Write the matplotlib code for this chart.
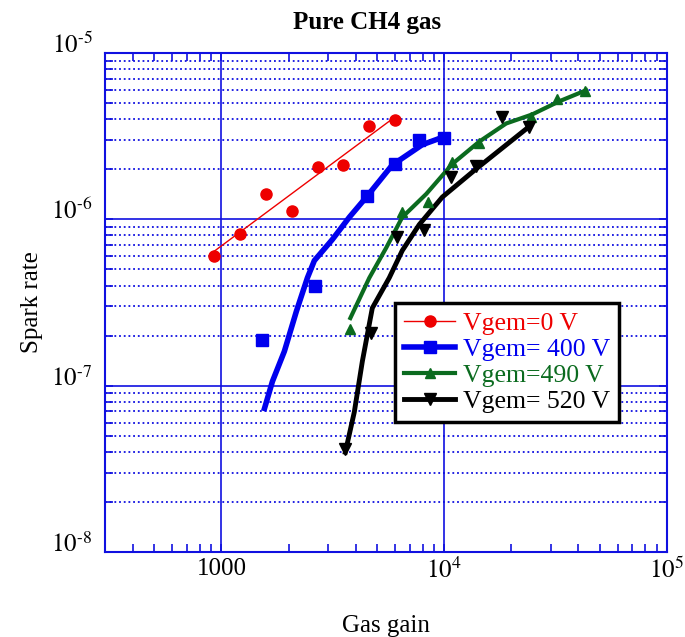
import numpy as np
import matplotlib
matplotlib.use('Agg')
import matplotlib.pyplot as plt
from matplotlib.ticker import FixedLocator, LogLocator, NullFormatter
from matplotlib.lines import Line2D

plt.rcParams['font.family'] = ['Liberation Serif', 'DejaVu Serif']
plt.rcParams['mathtext.fontset'] = 'stix'

# measured points
gain_0 = [921, 1205, 1592, 2081, 2722, 3524, 4610, 6030]
rate_0 = [6.05e-7, 8.2e-7, 1.42e-6, 1.13e-6, 2.07e-6, 2.12e-6, 3.66e-6, 3.93e-6]

gain_400 = [1527, 2640, 4515, 6030, 7725, 10000]
rate_400 = [1.87e-7, 3.98e-7, 1.38e-6, 2.15e-6, 3.01e-6, 3.1e-6]

gain_490 = [3789, 6480, 8480, 10860, 14350, 24550, 32110, 42880]
rate_490 = [2.18e-7, 1.10e-6, 1.27e-6, 2.21e-6, 2.89e-6, 4.15e-6, 5.26e-6, 5.88e-6]

gain_520 = [3597, 4705, 6154, 8130, 10750, 13910, 18190, 24050]
rate_520 = [4.15e-8, 2.07e-7, 7.88e-7, 8.58e-7, 1.8e-6, 2.1e-6, 4.15e-6, 3.61e-6]

# fit curves
fit_gain_400 = [1560, 1693, 1916, 2169, 2431, 2612, 3145, 3750, 4470, 5843, 7970, 10000]
fit_rate_400 = [7.3e-8, 1.06e-7, 1.61e-7, 2.8e-7, 4.45e-7, 5.65e-7, 7.56e-7, 1.03e-6,
                1.36e-6, 2.12e-6, 2.81e-6, 3.14e-6]
fit_gain_490 = [3789, 4610, 5495, 6480, 8300, 10860, 14350, 18970, 24800, 32790, 43330]
fit_rate_490 = [2.55e-7, 4.45e-7, 6.76e-7, 1.03e-6, 1.42e-6, 2.15e-6, 2.93e-6, 3.77e-6,
                4.27e-6, 5.12e-6, 5.97e-6]
fit_gain_520 = [3597, 3948, 4289, 4755, 5665, 6480, 7725, 9800, 13910, 24050]
fit_rate_520 = [3.98e-8, 6.95e-8, 1.4e-7, 2.93e-7, 4.45e-7, 6.49e-7, 9.3e-7, 1.36e-6,
                2.01e-6, 3.61e-6]

labels = ['Vgem=0 V', 'Vgem= 400 V', 'Vgem=490 V', 'Vgem= 520 V']

xticks = [1000, 1e4, 1e5]
xticklabels = ['1000', '$10^4$', '$10^5$']
yticks = [1e-8, 1e-7, 1e-6, 1e-5]
yticklabels = [r'$10^{\text{-}8}$', r'$10^{\text{-}7}$', r'$10^{\text{-}6}$', r'$10^{\text{-}5}$']

RED = '#ee0000'
BLUE = '#0000ee'
GREEN = '#0b6b1f'
BLACK = '#000000'
GRID = '#1010e0'

fig = plt.figure(figsize=(6.85, 6.37), dpi=100)
ax = fig.add_axes([0.1533, 0.1334, 0.8204, 0.7834])

# red: power-law fit through the points
p = np.polyfit(np.log10(gain_0), np.log10(rate_0), 1)
xf = np.array([min(gain_0), 5843])
ax.plot(xf, 10 ** np.polyval(p, np.log10(xf)), color=RED, lw=1.0, zorder=3)
ax.plot(gain_0, rate_0, 'o', color=RED, ms=8, mec=RED, zorder=4)

ax.plot(fit_gain_400, fit_rate_400, color=BLUE, lw=4, zorder=3)
ax.plot(gain_400, rate_400, 's', color=BLUE, ms=8.5, zorder=4)

ax.plot(fit_gain_490, fit_rate_490, color=GREEN, lw=3, zorder=3)
ax.plot(gain_490, rate_490, '^', color=GREEN, ms=7, zorder=4)

ax.plot(fit_gain_520, fit_rate_520, color=BLACK, lw=3.5, zorder=3)
ax.plot(gain_520, rate_520, 'v', color=BLACK, ms=8, zorder=4)

ax.set_xscale('log')
ax.set_yscale('log')
ax.set_xlim(300, 1e5)
ax.set_ylim(1e-8, 1e-5)

ax.xaxis.set_major_locator(FixedLocator(xticks))
ax.set_xticklabels(xticklabels, fontsize=18)
ax.yaxis.set_major_locator(FixedLocator(yticks))
ax.set_yticklabels(yticklabels, fontsize=18, va='baseline')
for a in (ax.xaxis, ax.yaxis):
    a.set_minor_locator(LogLocator(base=10, subs=np.arange(2, 10)))
    a.set_minor_formatter(NullFormatter())

ax.tick_params(which='both', direction='in', top=True, right=True, color=GRID)
ax.tick_params(which='minor', length=6, width=1.2)
ax.tick_params(which='major', length=6, width=1.2)
ax.tick_params(axis='x', pad=4)
ax.tick_params(axis='y', pad=9)

ax.grid(True, which='major', color=GRID, lw=1.2, ls='-')
ax.yaxis.grid(True, which='minor', color=GRID, lw=1.3, ls=(0, (1, 1.6)))
ax.set_axisbelow(True)
for s in ax.spines.values():
    s.set_color(GRID)
    s.set_linewidth(1.5)

ax.set_xlabel('Gas gain', fontsize=18, labelpad=23)
ax.set_ylabel('Spark rate', fontsize=18, labelpad=6)
fig.text(367 / 685, 1 - 22 / 637, 'Pure CH4 gas', ha='center', va='center',
         fontsize=18, fontweight='bold')

handles = [
    Line2D([], [], color=RED, lw=1.0, marker='o', ms=8),
    Line2D([], [], color=BLUE, lw=4, marker='s', ms=8.5),
    Line2D([], [], color=GREEN, lw=3, marker='^', ms=7),
    Line2D([], [], color=BLACK, lw=3.5, marker='v', ms=8),
]
leg = ax.legend(handles, labels, loc='lower left', bbox_to_anchor=(0.516, 0.261),
                borderaxespad=0, fontsize=18.5, labelcolor='linecolor', fancybox=False,
                framealpha=1, edgecolor='black', handlelength=2.0, handletextpad=0.3,
                labelspacing=0.12, borderpad=0.35, numpoints=1)
leg.get_frame().set_linewidth(2.5)
leg.set_zorder(5)

fig.savefig('out.png', dpi=100)
